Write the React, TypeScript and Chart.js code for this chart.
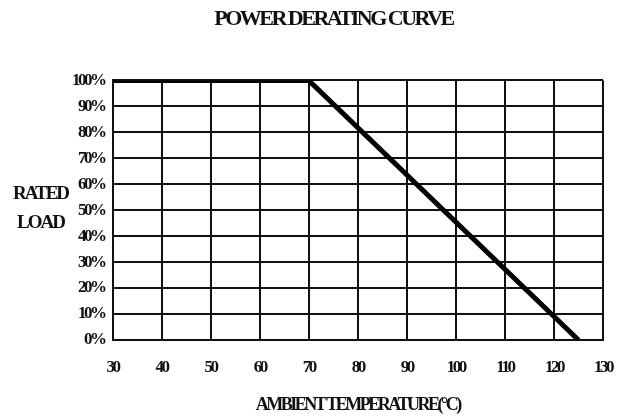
import React, { useEffect, useRef } from 'react';
import { Chart, registerables } from 'chart.js';

Chart.register(...registerables);

// ---- data ----
const temperatures = [30, 70, 125];
const loadPercent = [100, 100, 0];
const xTickValues = [30, 40, 50, 60, 70, 80, 90, 100, 110, 120, 130];
const yTickValues = [0, 10, 20, 30, 40, 50, 60, 70, 80, 90, 100];
const chartTitle = 'POWER DERATING CURVE';
const xAxisTitle = 'AMBIENT TEMPERATURE(°C)';
const yAxisTitleLines = ['RATED', 'LOAD'];

const SERIF = '"Liberation Serif", "DejaVu Serif", serif';
const SPACING = '-2.5px';

const spacingPlugin = {
  id: 'tightSpacing',
  beforeUpdate(chart: any) {
    (chart.ctx as any).letterSpacing = SPACING;
  },
  beforeDraw(chart: any) {
    (chart.ctx as any).letterSpacing = SPACING;
  },
};

const yTitlePlugin = {
  id: 'horizontalYTitle',
  afterDraw(chart: any) {
    const { ctx, chartArea } = chart;
    ctx.save();
    (ctx as any).letterSpacing = '-2px';
    ctx.fillStyle = '#111';
    ctx.font = `bold 19px ${SERIF}`;
    ctx.textAlign = 'center';
    ctx.textBaseline = 'middle';
    const cx = chartArea.left - 72;
    const cy = (chartArea.top + chartArea.bottom) / 2;
    ctx.fillText(yAxisTitleLines[0], cx, cy - 16);
    ctx.fillText(yAxisTitleLines[1], cx, cy + 13);
    ctx.restore();
  },
};

export default function App() {
  const ref = useRef<HTMLCanvasElement | null>(null);

  useEffect(() => {
    if (!ref.current) return;
    const points = temperatures.map((t, i) => ({ x: t, y: loadPercent[i] }));
    const chart = new Chart(ref.current, {
      type: 'scatter',
      data: {
        datasets: [
          {
            data: points,
            showLine: true,
            borderColor: '#000',
            borderWidth: 5,
            pointRadius: 0,
            tension: 0,
            borderCapStyle: 'butt',
          } as any,
        ],
      },
      options: {
        animation: false,
        responsive: false,
        maintainAspectRatio: false,
        layout: { padding: { left: 64, right: 15, top: 6, bottom: 3 } },
        plugins: {
          legend: { display: false },
          tooltip: { enabled: false },
          title: {
            display: true,
            text: chartTitle,
            color: '#111',
            font: { family: SERIF, size: 22, weight: 'bold' },
            padding: { top: 0, bottom: 48 },
          },
        },
        scales: {
          x: {
            type: 'linear',
            min: 30,
            max: 130,
            afterBuildTicks: (axis: any) => {
              axis.ticks = xTickValues.map((v) => ({ value: v }));
            },
            afterFit: (axis: any) => {
              axis.paddingRight = 0;
            },
            ticks: {
              color: '#111',
              font: { family: SERIF, size: 17, weight: 'bold' },
              padding: 17,
              maxRotation: 0,
              autoSkip: false,
            },
            grid: { color: '#111', lineWidth: 2, drawTicks: false },
            border: { color: '#111', width: 2 },
            title: {
              display: true,
              text: xAxisTitle,
              color: '#111',
              font: { family: SERIF, size: 18, weight: 'bold' },
              padding: { top: 0, bottom: 0 },
            },
          },
          y: {
            type: 'linear',
            min: 0,
            max: 100,
            afterBuildTicks: (axis: any) => {
              axis.ticks = yTickValues.map((v) => ({ value: v }));
            },
            ticks: {
              color: '#111',
              font: { family: SERIF, size: 17, weight: 'bold' },
              padding: 8,
              autoSkip: false,
              callback: (v: any) => `${v}%`,
            },
            grid: { color: '#111', lineWidth: 2, drawTicks: false },
            border: { color: '#111', width: 2 },
          },
        },
      },
      plugins: [spacingPlugin, yTitlePlugin],
    } as any);
    return () => chart.destroy();
  }, []);

  return (
    <div style={{ position: 'fixed', left: 0, top: 0, width: 618, height: 419, background: '#fff' }}>
      <canvas ref={ref} width={618} height={419} style={{ width: 618, height: 419 }} />
    </div>
  );
}
